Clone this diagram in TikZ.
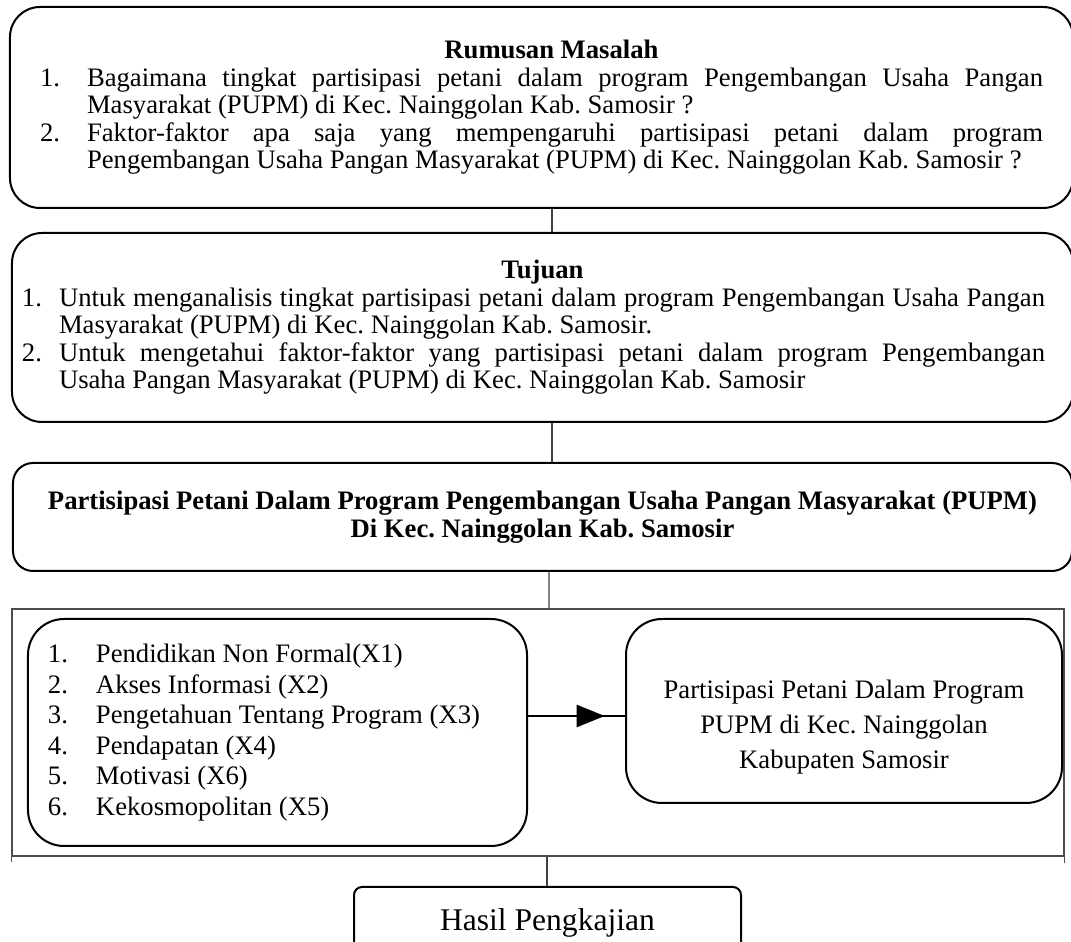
\documentclass[tikz,border=0pt]{standalone}
\usepackage{fontspec}
\setmainfont{Liberation Serif}
\usepackage{enumitem}
\usetikzlibrary{arrows.meta, calc, decorations.markings}
\newlength\pxu
\setlength\pxu{0.45pt}
\frenchspacing
\tolerance=10000
\hbadness=10000
\tikzset{
    kotak/.style={draw, line width=0.9pt, rounded corners=13.5pt, inner sep=0pt, align=center}, % kotak utama
    bingkai/.style={draw=black!70, line width=0.5pt}, % bingkai bagian bawah
    garis/.style={draw=black!75, line width=0.5pt}, % garis penghubung
    panah/.style={line width=0.9pt, decoration={markings, mark=at position 0.79 with {\arrow{Triangle[length=12.6pt, width=10pt]}}}, postaction={decorate}},
}
\newcommand{\daftar}[3]{\begin{enumerate}[label=\arabic*., align=left, labelwidth=#1\pxu, labelsep=0pt, leftmargin=#1\pxu, rightmargin=#2\pxu, topsep=0pt, partopsep=0pt, itemsep=0pt, parsep=0pt]#3\end{enumerate}}
\begin{document}
\begin{tikzpicture}[x=0.45pt, y=-0.45pt, font=\fontsize{12pt}{12.4pt}\selectfont]
    \useasboundingbox (0,0) rectangle (1071,942);
    \clip (0,0) rectangle (1071,942);

    % Kotak atas
    \node[kotak, minimum width=478.35pt, minimum height=90.45pt] (rumusan) at (541.5,107.5) {%
        \begin{minipage}{1003\pxu}
            {\centering\hspace*{20\pxu}\textbf{Rumusan Masalah}\par}
            \daftar{47}{0}{%
                \item Bagaimana tingkat partisipasi petani dalam program Pengembangan Usaha Pangan \linebreak Masyarakat (PUPM) di Kec. Nainggolan Kab. Samosir ?
                \item Faktor-faktor apa saja yang mempengaruhi partisipasi petani dalam program \linebreak Pengembangan Usaha Pangan Masyarakat (PUPM) di Kec. Nainggolan Kab. Samosir ?}
        \end{minipage}};
    \node[kotak, minimum width=477.45pt, minimum height=85.05pt] (tujuan) at (542.5,327.5) {%
        \begin{minipage}{1041\pxu}
            {\centering\textbf{Tujuan}\par}
            \daftar{37}{18}{%
                \item Untuk menganalisis tingkat partisipasi petani dalam program Pengembangan Usaha Pangan \linebreak Masyarakat (PUPM) di Kec. Nainggolan Kab. Samosir.
                \item Untuk mengetahui faktor-faktor yang partisipasi petani dalam program Pengembangan \linebreak Usaha Pangan Masyarakat (PUPM) di Kec. Nainggolan Kab. Samosir}
        \end{minipage}};
    \node[kotak, rounded corners=9pt, minimum width=476.55pt, minimum height=48.6pt,
          font=\fontsize{12pt}{12.6pt}\selectfont\bfseries] (utama) at (542.5,517)
        {Partisipasi Petani Dalam Program Pengembangan Usaha Pangan Masyarakat (PUPM)\\Di Kec. Nainggolan Kab. Samosir};

    % Bagian bawah
    \node[bingkai, minimum width=473.4pt, minimum height=111.15pt] (kerangka) at (538,732.5) {};
    \node[kotak, rounded corners=16.2pt, minimum width=224.55pt, minimum height=102.15pt] (faktor) at (277.5,732.5) {%
        \begin{minipage}{459\pxu}
            \fontsize{12pt}{13.7pt}\selectfont
            \daftar{48}{0}{%
                \item Pendidikan Non Formal(X1)
                \item Akses Informasi (X2)
                \item Pengetahuan Tentang Program (X3)
                \item Pendapatan (X4)
                \item Motivasi (X6)
                \item Kekosmopolitan (X5)}
        \end{minipage}};
    \node[kotak, rounded corners=16.2pt, minimum width=196.2pt, minimum height=82.8pt,
          font=\fontsize{12pt}{15.75pt}\selectfont] (partisipasi) at (844,711)
        {\rule{0pt}{50\pxu}Partisipasi Petani Dalam Program\\PUPM di Kec. Nainggolan\\Kabupaten Samosir};
    \node[kotak, rounded corners=3.6pt, minimum width=174.15pt, minimum height=31.95pt,
          font=\fontsize{14.2pt}{17pt}\selectfont] (hasil) at (547.5,922.5) {Hasil Pengkajian};

    % Garis
    \draw[garis] ($(rumusan.south)+(10.5,0)$) -- ($(tujuan.north)+(9.5,0)$);
    \draw[garis] ($(tujuan.south)+(9.5,0)$) -- ($(utama.north)+(9.5,0)$);
    \draw[garis] ($(utama.south)+(6.5,0)$) -- ($(kerangka.north)+(11,0)$);
    \draw[garis] ($(kerangka.south)+(9,0)$) -- ($(hasil.north)+(-0.5,0)$);
    \draw[bingkai] (kerangka.south west) -- ++(0,5);
    \draw[bingkai] (kerangka.south east) -- ++(0,6);
    \draw[panah] ($(faktor.east)+(0,-16.5)$) coordinate (mulai) -- (mulai -| partisipasi.west);
\end{tikzpicture}
\end{document}
